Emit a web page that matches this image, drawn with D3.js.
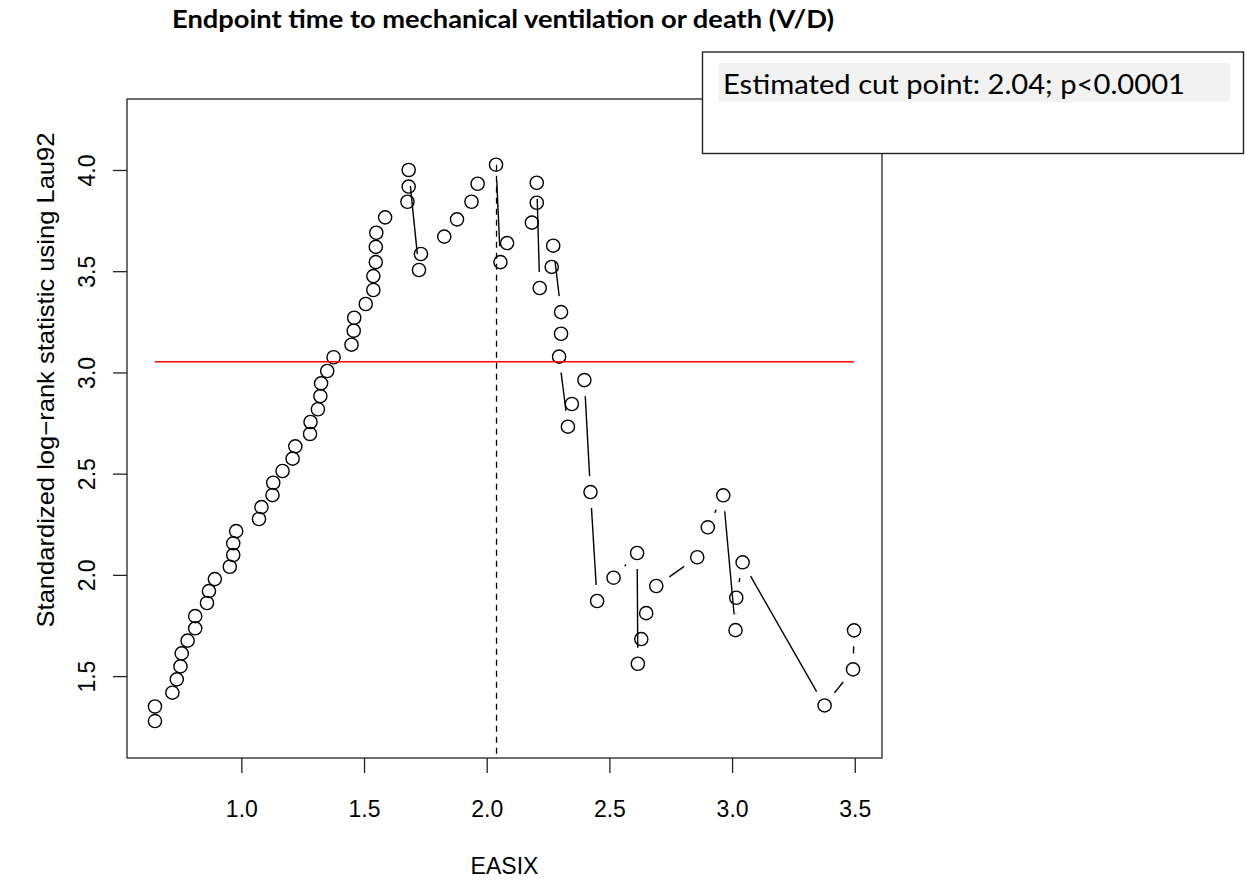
<!DOCTYPE html>
<html>
<head>
<meta charset="utf-8">
<script src="https://cdn.jsdelivr.net/npm/d3@7"></script>
<style>
  body { margin: 0; background: #fff; }
  svg { display: block; }
  .rplot text { font-family: "Liberation Sans", Arial, sans-serif; fill: #000; }
</style>
</head>
<body>
<div id="chart"></div>
<script>
// cut points (EASIX) and standardized log-rank statistics, in plotting order
var cuts = [0.648, 0.648, 0.719, 0.737, 0.752, 0.757, 0.781, 0.812, 0.812, 0.860,
    0.868, 0.892, 0.953, 0.967, 0.967, 0.979, 1.072, 1.082, 1.127, 1.130,
    1.168, 1.209, 1.220, 1.280, 1.282, 1.312, 1.322, 1.325, 1.350, 1.376,
    1.449, 1.458, 1.460, 1.507, 1.538, 1.538, 1.548, 1.548, 1.550, 1.586,
    1.677, 1.682, 1.682, 1.724, 1.732, 1.827, 1.879, 1.938, 1.963, 2.038,
    2.056, 2.083, 2.184, 2.204, 2.204, 2.216, 2.265, 2.271, 2.303, 2.303,
    2.295, 2.331, 2.347, 2.398, 2.423, 2.450, 2.517, 2.613, 2.616, 2.630,
    2.650, 2.691, 2.858, 2.901, 2.964, 3.014, 3.017, 3.043, 3.377, 3.493,
    3.497];
var stats = [1.278, 1.350, 1.418, 1.484, 1.548, 1.612, 1.675, 1.736, 1.796, 1.861,
    1.920, 1.979, 2.040, 2.098, 2.156, 2.216, 2.276, 2.335, 2.394, 2.455,
    2.513, 2.574, 2.635, 2.696, 2.755, 2.818, 2.883, 2.946, 3.007, 3.075,
    3.137, 3.206, 3.270, 3.338, 3.407, 3.476, 3.545, 3.620, 3.690, 3.766,
    3.843, 3.918, 4.000, 3.506, 3.585, 3.671, 3.756, 3.843, 3.932, 4.026,
    3.545, 3.639, 3.740, 3.838, 3.937, 3.417, 3.521, 3.626, 3.298, 3.191,
    3.078, 2.732, 2.844, 2.962, 2.409, 1.871, 1.986, 2.108, 1.561, 1.683,
    1.811, 1.945, 2.087, 2.235, 2.393, 1.727, 1.887, 2.062, 1.355, 1.533,
    1.726];
var xTicks = [1.0, 1.5, 2.0, 2.5, 3.0, 3.5];
var yTicks = [1.5, 2.0, 2.5, 3.0, 3.5, 4.0];
var yLimits = [1.216, 4.23];
var estimate = 2.04;
var quantile = 3.053;

var titleText = "Endpoint time to mechanical ventilation or death (V/D)";
var noteText = "Estimated cut point: 2.04; p<0.0001";
var xLabel = "EASIX";
var yLabel = "Standardized log\u2212rank statistic using Lau92";

var width = 1245, height = 886,
    plot = {left: 127, right: 882, top: 99, bottom: 758},
    gap = 16, radius = 6.6;

// R pads axis limits by 4% on each side
function padRange(r) {
    var d = (r[1] - r[0]) * 0.04;
    return [r[0] - d, r[1] + d];
}

var svg = d3.select("#chart").append("svg")
    .attr("width", width)
    .attr("height", height)
    .attr("class", "rplot");

var x = d3.scaleLinear().domain(padRange(d3.extent(cuts))).range([plot.left, plot.right]);
var y = d3.scaleLinear().domain(padRange(yLimits)).range([plot.bottom, plot.top]);

var pts = cuts.map(function (c, i) {
    return {x: x(c), y: y(stats[i])};
});

// type = "b": segments between points, trimmed around each symbol
var segs = [];
for (var i = 1; i < pts.length; i++) {
    var p0 = pts[i - 1], p1 = pts[i],
        dx = p1.x - p0.x, dy = p1.y - p0.y,
        len = Math.sqrt(dx * dx + dy * dy);
    if (len <= 2 * gap) continue;
    var ux = dx / len, uy = dy / len;
    segs.push({x1: p0.x + ux * gap, y1: p0.y + uy * gap, x2: p1.x - ux * gap, y2: p1.y - uy * gap});
}

svg.append("g").selectAll("line")
    .data(segs)
    .enter().append("line")
    .attr("x1", function (d) { return d.x1; })
    .attr("y1", function (d) { return d.y1; })
    .attr("x2", function (d) { return d.x2; })
    .attr("y2", function (d) { return d.y2; })
    .attr("stroke", "#000")
    .attr("stroke-width", 1.4);

svg.append("g").selectAll("circle")
    .data(pts)
    .enter().append("circle")
    .attr("cx", function (d) { return d.x; })
    .attr("cy", function (d) { return d.y; })
    .attr("r", radius)
    .attr("fill", "none")
    .attr("stroke", "#000")
    .attr("stroke-width", 1.4);

// quantile line
svg.append("line")
    .attr("x1", x(d3.min(cuts)))
    .attr("x2", x(d3.max(cuts)))
    .attr("y1", y(quantile))
    .attr("y2", y(quantile))
    .attr("stroke", "#ff0000")
    .attr("stroke-width", 1.4);

// estimated cut point
svg.append("line")
    .attr("x1", x(estimate))
    .attr("x2", x(estimate))
    .attr("y1", y(d3.max(stats)))
    .attr("y2", y(y.domain()[0]))
    .attr("stroke", "#000")
    .attr("stroke-width", 1.3)
    .attr("stroke-dasharray", "6,5");

// plot box
svg.append("rect")
    .attr("x", plot.left)
    .attr("y", plot.top)
    .attr("width", plot.right - plot.left)
    .attr("height", plot.bottom - plot.top)
    .attr("fill", "none")
    .attr("stroke", "#222")
    .attr("stroke-width", 1.3);

// axes
var xAxis = d3.axisBottom(x).tickValues(xTicks).tickSize(15).tickPadding(28).tickFormat(d3.format(".1f"));
var yAxis = d3.axisLeft(y).tickValues(yTicks).tickSize(14).tickFormat(d3.format(".1f"));

var gx = svg.append("g")
    .attr("transform", "translate(0," + plot.bottom + ")")
    .call(xAxis);
var gy = svg.append("g")
    .attr("transform", "translate(" + plot.left + ",0)")
    .call(yAxis);

[gx, gy].forEach(function (g) {
    g.select(".domain").remove();
    g.selectAll(".tick line").attr("stroke", "#222").attr("stroke-width", 1.3);
    g.selectAll("text").style("font-size", "23px").attr("fill", "#000");
});

gy.selectAll(".tick text")
    .attr("x", null)
    .attr("dy", "0.35em")
    .attr("text-anchor", "middle")
    .attr("transform", "translate(-40,0) rotate(-90)");

// axis titles
svg.append("text")
    .attr("x", (plot.left + plot.right) / 2)
    .attr("y", 874)
    .attr("text-anchor", "middle")
    .style("font-size", "23px")
    .text(xLabel);

svg.append("text")
    .attr("transform", "translate(46,380) rotate(-90)")
    .attr("dy", "0.35em")
    .attr("text-anchor", "middle")
    .attr("textLength", 495)
    .attr("lengthAdjust", "spacingAndGlyphs")
    .style("font-size", "24px")
    .text(yLabel);

// heading
svg.append("text")
    .attr("x", 172)
    .attr("y", 28)
    .attr("textLength", 662)
    .attr("lengthAdjust", "spacingAndGlyphs")
    .style("font-family", "Lato, 'Open Sans', sans-serif")
    .style("font-weight", "bold")
    .style("font-size", "24px")
    .text(titleText);

// note box
var note = svg.append("g");
note.append("rect")
    .attr("x", 702.5)
    .attr("y", 52)
    .attr("width", 541)
    .attr("height", 101.5)
    .attr("fill", "#fff")
    .attr("stroke", "#222")
    .attr("stroke-width", 1.4);
note.append("rect")
    .attr("x", 719)
    .attr("y", 63)
    .attr("width", 511)
    .attr("height", 39)
    .attr("fill", "#f2f2f2");
note.append("text")
    .attr("x", 723)
    .attr("y", 94)
    .attr("textLength", 462)
    .attr("lengthAdjust", "spacingAndGlyphs")
    .style("font-family", "Lato, 'Open Sans', sans-serif")
    .style("font-size", "27px")
    .text(noteText);
</script>
</body>
</html>
